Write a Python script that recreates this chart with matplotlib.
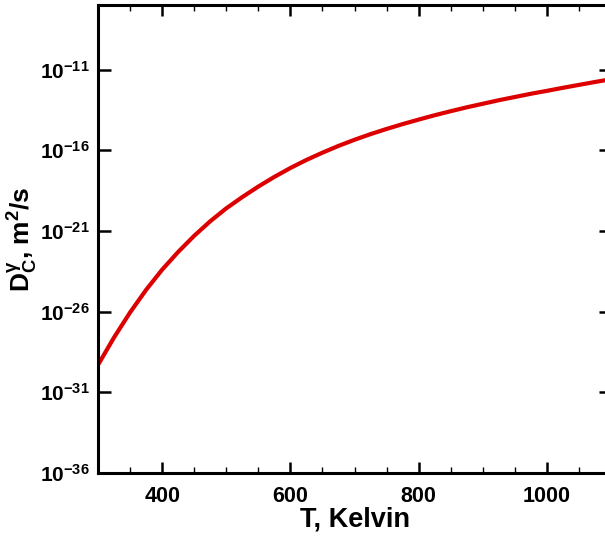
"""Carbon diffusivity in austenite vs temperature (log scale)."""

import math

import matplotlib

matplotlib.use("Agg")
import matplotlib.pyplot as plt
from matplotlib.ticker import FixedLocator, MultipleLocator, FuncFormatter

plt.rcParams["font.family"] = ["Liberation Sans", "DejaVu Sans"]
plt.rcParams["font.weight"] = "bold"
plt.rcParams["mathtext.fontset"] = "custom"
plt.rcParams["mathtext.rm"] = "Liberation Sans:bold"
plt.rcParams["mathtext.bf"] = "Liberation Sans:bold"
plt.rcParams["mathtext.it"] = "Liberation Sans:bold:italic"

# values (log10 of D, m^2/s)
T_KELVIN = [300, 325, 350, 375, 400, 425, 450, 475, 500, 525, 550, 575,
            600, 625, 650, 675, 700, 725, 750, 775, 800, 825, 850, 875,
            900, 925, 950, 975, 1000, 1025, 1050, 1075, 1100]
LOG10_D = [-29.3, -27.6, -26.05, -24.65, -23.4, -22.3, -21.3, -20.4, -19.6,
           -18.9, -18.25, -17.65, -17.1, -16.6, -16.15, -15.73, -15.35,
           -15.0, -14.68, -14.38, -14.1, -13.83, -13.58, -13.34, -13.12,
           -12.9, -12.7, -12.5, -12.32, -12.13, -11.95, -11.77, -11.6]
D_VALUES = [10.0 ** v for v in LOG10_D]

Y_TICK_EXPONENTS = [-36, -31, -26, -21, -16, -11]

fig = plt.figure(figsize=(6.05, 5.38), dpi=100)
ax = fig.add_axes([0.162, 0.1208, 0.848, 0.8699])

ax.plot(T_KELVIN, D_VALUES, color="#DD0000", lw=3.0)

ax.set_yscale("log")
ax.set_xlim(300, 1100)
ax.set_ylim(1e-36, 1e-7)

ax.yaxis.set_major_locator(FixedLocator([10.0 ** e for e in Y_TICK_EXPONENTS]))
ax.yaxis.set_minor_locator(FixedLocator([]))
ax.yaxis.set_major_formatter(
    FuncFormatter(lambda v, _: r"$\mathbf{10^{%d}}$" % round(math.log10(v))))
ax.xaxis.set_major_locator(MultipleLocator(200))
ax.xaxis.set_minor_locator(MultipleLocator(50))

for side in ax.spines.values():
    side.set_linewidth(2.2)

ax.tick_params(which="both", direction="in", top=True, right=True, width=1.8,
               labelsize=15.5)
ax.tick_params(axis="y", which="major", length=9, pad=6, labelsize=15)
ax.tick_params(axis="x", which="major", length=8, pad=9)
ax.tick_params(axis="x", which="minor", length=4, width=1.0)
for lab in ax.get_xticklabels():
    lab.set_fontweight("bold")

ax.set_xlabel("T, Kelvin", fontsize=19.5, fontweight="bold", labelpad=0)
ax.set_ylabel(r"$\mathbf{D_C^{\gamma}}$, m$\mathbf{^2}$/s", fontsize=19,
              fontweight="bold")
ax.yaxis.set_label_coords(-0.114, 0.5)

fig.savefig("out.png", dpi=100)
